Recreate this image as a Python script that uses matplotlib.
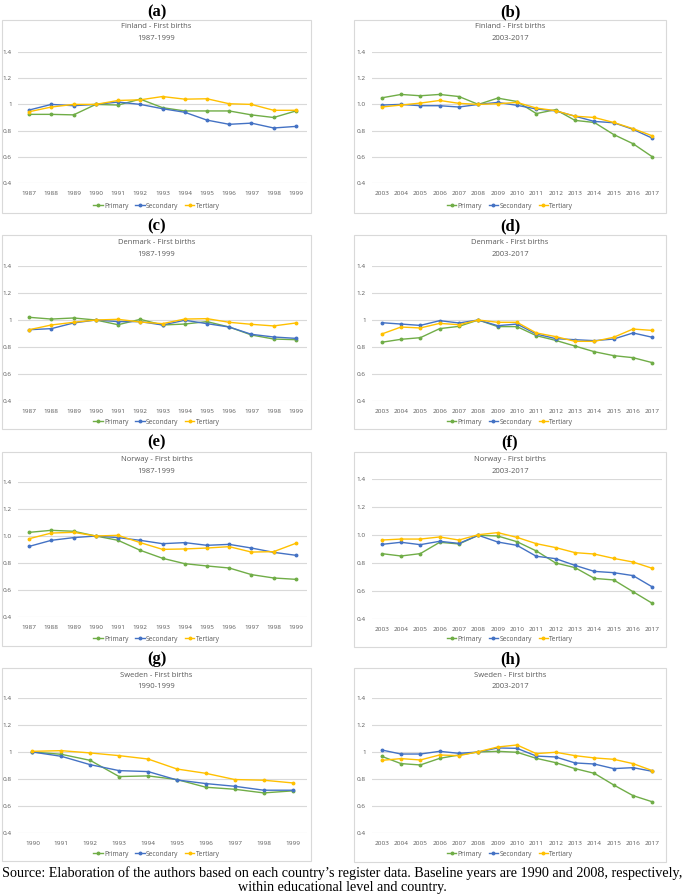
import matplotlib
matplotlib.use("Agg")
import matplotlib.pyplot as plt
from matplotlib.patches import Rectangle
from matplotlib.ticker import FuncFormatter

# ── Data (ratio to baseline year) ─────────────────────────────────────
years_87 = [1987, 1988, 1989, 1990, 1991, 1992, 1993, 1994, 1995, 1996, 1997, 1998, 1999]
years_90 = [1990, 1991, 1992, 1993, 1994, 1995, 1996, 1997, 1998, 1999]
years_03 = [2003, 2004, 2005, 2006, 2007, 2008, 2009, 2010, 2011, 2012, 2013, 2014, 2015, 2016, 2017]
series_names = ["Primary", "Secondary", "Tertiary"]

fin_early_pri = [0.924, 0.924, 0.92, 1.0, 0.995, 1.04, 0.975, 0.95, 0.95, 0.95, 0.92, 0.90, 0.95]
fin_early_sec = [0.957, 1.0, 0.99, 1.0, 1.018, 1.0, 0.967, 0.94, 0.88, 0.848, 0.857, 0.82, 0.832]
fin_early_ter = [0.944, 0.98, 1.0, 1.0, 1.03, 1.035, 1.06, 1.04, 1.043, 1.005, 1.0, 0.955, 0.955]

fin_late_pri = [1.05, 1.076, 1.066, 1.076, 1.06, 1.0, 1.048, 1.022, 0.93, 0.96, 0.878, 0.862, 0.77, 0.70, 0.60]
fin_late_sec = [0.995, 1.0, 0.99, 0.99, 0.98, 1.0, 1.015, 0.993, 0.965, 0.95, 0.91, 0.87, 0.86, 0.81, 0.742]
fin_late_ter = [0.98, 0.995, 1.01, 1.03, 1.008, 1.0, 1.005, 1.015, 0.972, 0.952, 0.91, 0.90, 0.862, 0.815, 0.76]

den_early_pri = [1.02, 1.007, 1.015, 1.0, 0.965, 1.005, 0.963, 0.97, 0.988, 0.948, 0.889, 0.859, 0.854]
den_early_sec = [0.928, 0.936, 0.978, 1.0, 0.988, 0.988, 0.963, 0.998, 0.973, 0.948, 0.894, 0.874, 0.864]
den_early_ter = [0.928, 0.963, 0.983, 1.0, 1.005, 0.985, 0.973, 1.007, 1.01, 0.983, 0.968, 0.956, 0.978]

den_late_pri = [0.835, 0.857, 0.869, 0.936, 0.953, 1.0, 0.951, 0.951, 0.884, 0.849, 0.807, 0.765, 0.736, 0.721, 0.684]
den_late_sec = [0.98, 0.97, 0.96, 0.995, 0.978, 1.0, 0.958, 0.97, 0.896, 0.862, 0.854, 0.847, 0.859, 0.904, 0.872]
den_late_ter = [0.896, 0.948, 0.941, 0.975, 0.965, 1.0, 0.983, 0.983, 0.904, 0.877, 0.842, 0.842, 0.872, 0.933, 0.923]

nor_early_pri = [1.027, 1.042, 1.035, 1.0, 0.968, 0.894, 0.835, 0.795, 0.778, 0.763, 0.714, 0.689, 0.679]
nor_early_sec = [0.923, 0.968, 0.988, 1.0, 0.988, 0.968, 0.943, 0.951, 0.931, 0.938, 0.911, 0.879, 0.857]
nor_early_ter = [0.98, 1.022, 1.027, 1.0, 1.005, 0.951, 0.901, 0.904, 0.911, 0.921, 0.881, 0.884, 0.946]

nor_late_pri = [0.867, 0.85, 0.867, 0.948, 0.936, 0.998, 0.993, 0.952, 0.886, 0.80, 0.767, 0.69, 0.679, 0.595, 0.512]
nor_late_sec = [0.933, 0.948, 0.931, 0.955, 0.94, 0.998, 0.95, 0.926, 0.848, 0.831, 0.783, 0.74, 0.731, 0.71, 0.629]
nor_late_ter = [0.964, 0.971, 0.971, 0.986, 0.964, 1.002, 1.017, 0.983, 0.938, 0.91, 0.874, 0.864, 0.833, 0.807, 0.762]

swe_early_pri = [1.0, 0.983, 0.938, 0.818, 0.823, 0.796, 0.739, 0.724, 0.697, 0.712]
swe_early_sec = [1.0, 0.968, 0.906, 0.862, 0.855, 0.793, 0.766, 0.746, 0.717, 0.717]
swe_early_ter = [1.005, 1.01, 0.993, 0.973, 0.948, 0.874, 0.842, 0.796, 0.791, 0.771]

swe_late_pri = [0.968, 0.914, 0.904, 0.953, 0.978, 1.0, 1.005, 0.998, 0.953, 0.921, 0.877, 0.842, 0.756, 0.677, 0.631]
swe_late_sec = [1.015, 0.985, 0.985, 1.005, 0.99, 1.0, 1.03, 1.027, 0.97, 0.963, 0.919, 0.911, 0.877, 0.884, 0.857]
swe_late_ter = [0.938, 0.951, 0.941, 0.978, 0.973, 1.002, 1.037, 1.052, 0.988, 0.998, 0.973, 0.956, 0.946, 0.914, 0.862]

# ── Style ─────────────────────────────────────────────────────────────
W, H = 685, 896
COLORS = ["#70AD47", "#4472C4", "#FFC000"]
GRID = "#D9D9D9"
TXT = "#595959"
plt.rcParams["font.family"] = ["Open Sans", "DejaVu Sans"]

fig = plt.figure(figsize=(W / 100, H / 100), dpi=100)


def fx(px):
    return px / W


def fy(py):
    return 1 - py / H


# label, country, period, years, series, one-decimal ticks, box (x0, y0, x1, y1), plot (x0, y0, x1, y1), label y, legend y
panels = [
    ("(a)", "Finland", "1987-1999", years_87, [fin_early_pri, fin_early_sec, fin_early_ter], False,
     (2, 20, 311, 213), (18, 52, 307, 183), 12, 206),
    ("(b)", "Finland", "2003-2017", years_03, [fin_late_pri, fin_late_sec, fin_late_ter], True,
     (354, 20, 666, 213), (372, 52, 662, 183), 12, 206),
    ("(c)", "Denmark", "1987-1999", years_87, [den_early_pri, den_early_sec, den_early_ter], False,
     (2, 235, 311, 429), (18, 266, 307, 401), 226, 422),
    ("(d)", "Denmark", "2003-2017", years_03, [den_late_pri, den_late_sec, den_late_ter], False,
     (354, 235, 666, 429), (372, 266, 662, 401), 226, 422),
    ("(e)", "Norway", "1987-1999", years_87, [nor_early_pri, nor_early_sec, nor_early_ter], True,
     (2, 452, 311, 646), (18, 482, 307, 617), 442, 639),
    ("(f)", "Norway", "2003-2017", years_03, [nor_late_pri, nor_late_sec, nor_late_ter], True,
     (354, 452, 666, 647), (372, 479, 662, 619), 442, 639),
    ("(g)", "Sweden", "1990-1999", years_90, [swe_early_pri, swe_early_sec, swe_early_ter], False,
     (2, 668, 311, 861), (18, 698, 307, 833), 659, 854),
    ("(h)", "Sweden", "2003-2017", years_03, [swe_late_pri, swe_late_sec, swe_late_ter], False,
     (354, 668, 666, 862), (372, 698, 662, 833), 659, 854),
]


def fmt_general(v, pos):
    return f"{v:g}"


def fmt_one(v, pos):
    return f"{v:.1f}"


for label, country, period, years, series, one_dec, box, plot, lab_y, leg_y in panels:
    bx0, by0, bx1, by1 = box
    fig.patches.append(Rectangle((fx(bx0), fy(by1)), (bx1 - bx0) / W, (by1 - by0) / H,
                                 transform=fig.transFigure, facecolor="none",
                                 edgecolor=GRID, linewidth=0.8, zorder=0))
    cx = (bx0 + bx1) / 2
    fig.text(fx(cx), fy(lab_y), label, ha="center", va="center", fontsize=12,
             fontweight="bold", family="Liberation Serif")
    fig.text(fx(cx), fy(by0 + 7), f"{country} - First births", ha="center", va="center",
             fontsize=5.5, color=TXT)
    fig.text(fx(cx), fy(by0 + 19), period, ha="center", va="center", fontsize=5.5, color=TXT)

    px0, py0, px1, py1 = plot
    ax = fig.add_axes([fx(px0), fy(py1), (px1 - px0) / W, (py1 - py0) / H])
    ax.set_facecolor("none")
    x = list(range(len(years)))
    handles = []
    for name, vals, c in zip(series_names, series, COLORS):
        h, = ax.plot(x, vals, color=c, lw=1.0, marker="o", ms=1.8, label=name)
        handles.append(h)
    ax.set_xlim(-0.5, len(years) - 0.5)
    ax.set_ylim(0.4, 1.4)
    ax.set_yticks([0.4, 0.6, 0.8, 1.0, 1.2, 1.4])
    ax.yaxis.set_major_formatter(FuncFormatter(fmt_one if one_dec else fmt_general))
    ax.set_xticks(x)
    ax.set_xticklabels([str(y) for y in years])
    ax.grid(True, axis="y", color=GRID, lw=0.8)
    ax.set_axisbelow(True)
    for s in ax.spines.values():
        s.set_visible(False)
    ax.tick_params(length=0, labelsize=4.6, colors=TXT)
    ax.tick_params(axis="y", pad=4.3)
    ax.tick_params(axis="x", pad=6)
    ax.legend(handles=handles, loc="center", ncol=3, frameon=False, fontsize=4.8,
              labelcolor=TXT, handlelength=1.4, handletextpad=0.2, columnspacing=1.0,
              bbox_to_anchor=(fx(cx), fy(leg_y)), bbox_transform=fig.transFigure)

fig.text(0.5, fy(873), "Source: Elaboration of the authors based on each country\u2019s register data. "
         "Baseline years are 1990 and 2008, respectively,", ha="center", va="center",
         fontsize=10.2, family="Liberation Serif")
fig.text(0.5, fy(887), "within educational level and country.", ha="center", va="center",
         fontsize=10.2, family="Liberation Serif")

fig.savefig("out.png", dpi=100)
